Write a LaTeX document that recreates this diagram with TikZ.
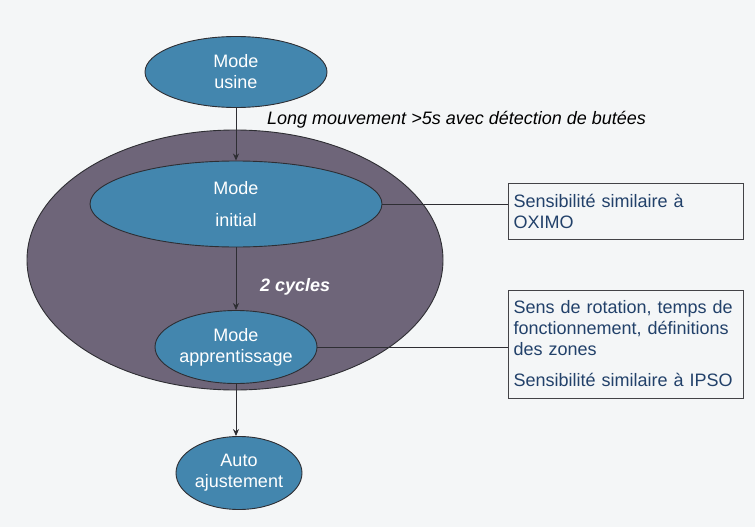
\documentclass[tikz,border=0pt]{standalone}
\usepackage{fontspec}
\setmainfont{Liberation Sans}
\usetikzlibrary{shapes.geometric,arrows.meta}
\definecolor{bgc}{HTML}{F4F6F7}
\definecolor{modeblue}{HTML}{4386AE}
\definecolor{grp}{HTML}{6E6579}
\definecolor{edgec}{HTML}{2E2E33}
\definecolor{boxtext}{HTML}{22416A}
\tikzset{
  mode/.style={ellipse, draw=edgec, line width=0.9pt, fill=modeblue, inner sep=0pt,
    text=white, align=center, font=\fontsize{18}{21}\selectfont},
  infobox/.style={rectangle, draw=edgec!90, line width=1pt, fill=bgc, inner xsep=5.5pt,
    inner ysep=0pt, text width=224pt, align=left, text=boxtext, font=\fontsize{18}{21}\selectfont},
  flow/.style={draw=edgec, line width=0.9pt, -{Stealth[length=7pt,width=6pt]}},
  link/.style={draw=edgec, line width=0.9pt},
}
\begin{document}
\begin{tikzpicture}[x=1pt,y=-1pt]
\fill[bgc] (0,0) rectangle (755,527);
\useasboundingbox (0,0) rectangle (755,527);
% group ellipse
\node[ellipse, draw=edgec, line width=0.9pt, fill=grp, inner sep=0pt,
      minimum width=416pt, minimum height=260pt] (grp) at (235,260) {};
% modes
\node[mode, minimum width=182pt, minimum height=71pt] (usine) at (236,72) {Mode\\usine};
\node[mode, minimum width=292pt, minimum height=86pt] (initial) at (236,204) {Mode\\[11pt]initial};
\node[mode, minimum width=162pt, minimum height=73pt] (appr) at (236,347) {Mode\\apprentissage};
\node[mode, minimum width=126pt, minimum height=73pt] (auto) at (239,473) {Auto\\ajustement};
% labels
\node[anchor=west, inner sep=0pt, font=\fontsize{18}{21}\selectfont\itshape] (lbl1) at (267,120)
  {Long mouvement >5s avec détection de butées};
\node[anchor=west, inner sep=0pt, text=white, font=\fontsize{18}{21}\selectfont\bfseries\itshape] (lbl2) at (260,287)
  {2 cycles};
% boxes
\node[infobox, minimum height=56pt] (box1) at (625.5,211) {Sensibilité similaire à\\OXIMO};
\node[infobox, minimum height=108pt] (box2) at (625.5,344)
  {Sens de rotation, temps de\\fonctionnement, définitions\\des zones\\[10pt]Sensibilité similaire à IPSO};
% arrows
\draw[flow] (usine.south) -- (initial.north);
\draw[flow] (initial.south) -- (appr.north);
\draw[flow] (appr.south) -- (appr.south |- auto.north);
% connectors
\draw[link] (initial.east) -- (box1.west |- initial.east);
\draw[link] (appr.east) -- (box2.west |- appr.east);
\end{tikzpicture}
\end{document}
